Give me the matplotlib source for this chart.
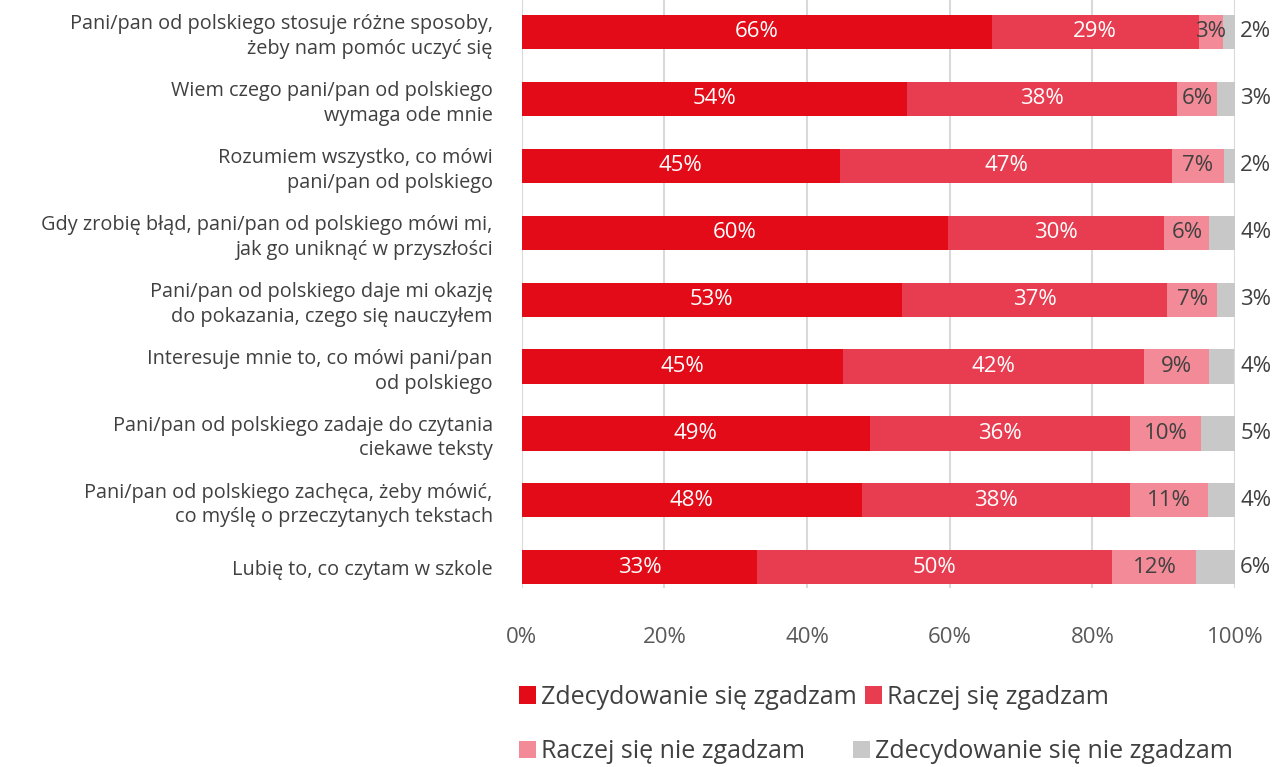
import numpy as np
import matplotlib.pyplot as plt
from matplotlib.patches import Patch

plt.rcParams['font.family'] = ['Open Sans', 'DejaVu Sans']

categories = [
    "Pani/pan od polskiego stosuje różne sposoby,\nżeby nam pomóc uczyć się",
    "Wiem czego pani/pan od polskiego\nwymaga ode mnie",
    "Rozumiem wszystko, co mówi\npani/pan od polskiego",
    "Gdy zrobię błąd, pani/pan od polskiego mówi mi,\njak go uniknąć w przyszłości",
    "Pani/pan od polskiego daje mi okazję\ndo pokazania, czego się nauczyłem",
    "Interesuje mnie to, co mówi pani/pan\nod polskiego",
    "Pani/pan od polskiego zadaje do czytania\nciekawe teksty",
    "Pani/pan od polskiego zachęca, żeby mówić,\nco myślę o przeczytanych tekstach",
    "Lubię to, co czytam w szkole",
]
series_names = ["Zdecydowanie się zgadzam", "Raczej się zgadzam",
                "Raczej się nie zgadzam", "Zdecydowanie się nie zgadzam"]
strongly_agree = [65.9, 54.0, 44.6, 59.7, 53.3, 45.0, 48.8, 47.7, 33.0]
agree = [29.0, 37.9, 46.6, 30.4, 37.2, 42.2, 36.5, 37.6, 49.8]
disagree = [3.4, 5.6, 7.2, 6.3, 7.0, 9.1, 10.0, 10.9, 11.8]
strongly_disagree = [1.7, 2.6, 1.6, 3.6, 2.6, 3.6, 4.8, 3.8, 5.6]

colors = ["#E30B17", "#E83D50", "#F28B97", "#C8C8C8"]
text_col = "#404040"

data = np.array([strongly_agree, agree, disagree, strongly_disagree]) / 100
y = np.arange(len(categories))

fig = plt.figure(figsize=(12.79, 7.67), dpi=100)
ax = fig.add_axes([0.408, 1 - 588 / 767, 0.9656 - 0.408, 588 / 767])

left = np.zeros(len(categories))
for i, vals in enumerate(data):
    ax.barh(y, vals, left=left, height=0.51, color=colors[i], zorder=2)
    for j, v in enumerate(vals):
        lbl = f"{v * 100:.0f}%"
        if i == 3:
            ax.text(1.0 + 0.029, y[j], lbl, ha='center', va='center',
                    fontsize=16, color=text_col)
        else:
            ax.text(left[j] + v / 2, y[j], lbl, ha='center', va='center',
                    fontsize=16, color='white' if i < 2 else text_col)
    left += vals

ax.set_xlim(0, 1)
ax.set_ylim(8.31, -0.478)
ax.set_xticks(np.linspace(0, 1, 6))
ax.set_xticklabels([f"{int(t)}%" for t in np.linspace(0, 100, 6)])
ax.set_yticks(y)
ax.set_yticklabels(categories, fontsize=14.3, color=text_col, linespacing=1.3)
ax.tick_params(axis='x', labelsize=16, labelcolor="#595959", length=0, pad=28)
ax.tick_params(axis='y', length=0, pad=21)
ax.grid(axis='x', color="#D9D9D9", linewidth=1.5, zorder=0)
for s in ax.spines.values():
    s.set_visible(False)

handles = [Patch(facecolor=c) for c in colors]
fig.legend(handles[:2], series_names[:2], ncol=2, loc='center left',
           bbox_to_anchor=(0.388, 0.091), frameon=False, fontsize=18,
           handlelength=0.7, handleheight=0.7, handletextpad=0.2,
           columnspacing=0.3, labelcolor=text_col)
fig.legend(handles[2:], series_names[2:], ncol=2, loc='center left',
           bbox_to_anchor=(0.388, 0.02), frameon=False, fontsize=18,
           handlelength=0.7, handleheight=0.7, handletextpad=0.2,
           columnspacing=1.9, labelcolor=text_col)

fig.savefig("out.png", dpi=100)
